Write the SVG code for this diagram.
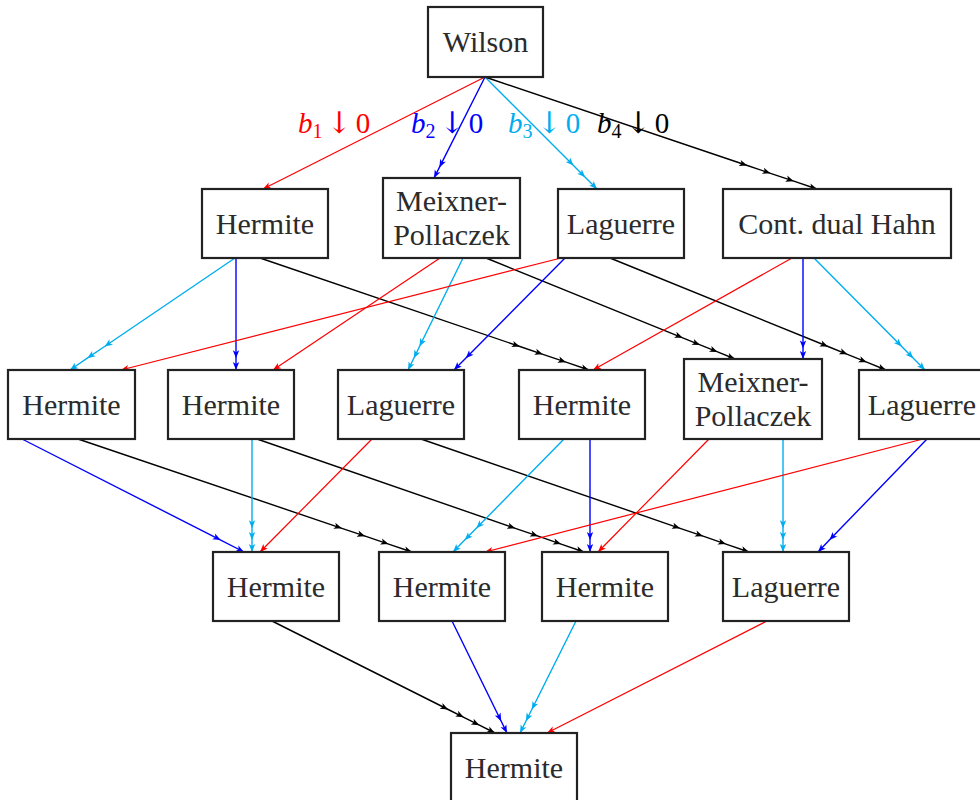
<svg xmlns="http://www.w3.org/2000/svg" width="980" height="800" viewBox="0 0 980 800">
<defs>
<style>
.box{fill:#fff;stroke:#222;stroke-width:2.2}
.t{font-family:"Liberation Serif","DejaVu Serif",serif;font-size:30px;fill:#2b2b2b;text-anchor:middle}
.lbl{font-family:"Liberation Serif","DejaVu Serif",serif;font-size:29px}
.arr{font-family:"DejaVu Serif",serif;font-size:30px}
.e{fill:none;stroke-width:1.4}
.r{stroke:#ff0000;stroke-width:1.2;marker-end:url(#hr)}
.b{stroke:#0000ff;marker-mid:url(#hb);marker-end:url(#hb)}
.c{stroke:#00aeef;marker-mid:url(#hc);marker-end:url(#hc)}
.k{stroke:#000;marker-mid:url(#hk);marker-end:url(#hk)}
</style>
<marker id="hr" viewBox="-10 -5 12 10" refX="0" refY="0" markerWidth="12" markerHeight="10" markerUnits="userSpaceOnUse" orient="auto"><path d="M0,0 L-8,-3.2 L-6,0 L-8,3.2 Z" fill="#ff0000"/></marker>
<marker id="hb" viewBox="-10 -5 12 10" refX="0" refY="0" markerWidth="12" markerHeight="10" markerUnits="userSpaceOnUse" orient="auto"><path d="M0,0 L-8,-3.2 L-6,0 L-8,3.2 Z" fill="#0000ff"/></marker>
<marker id="hc" viewBox="-10 -5 12 10" refX="0" refY="0" markerWidth="12" markerHeight="10" markerUnits="userSpaceOnUse" orient="auto"><path d="M0,0 L-8,-3.2 L-6,0 L-8,3.2 Z" fill="#00aeef"/></marker>
<marker id="hk" viewBox="-10 -5 12 10" refX="0" refY="0" markerWidth="12" markerHeight="10" markerUnits="userSpaceOnUse" orient="auto"><path d="M0,0 L-8,-3.2 L-6,0 L-8,3.2 Z" fill="#000"/></marker>
</defs>
<rect width="980" height="800" fill="#fff"/>
<g id="connectors">
<path class="e r" d="M485,77 L263,189"/>
<path class="e b" d="M485,77 L439.4,167.4 L434,178"/>
<path class="e c" d="M485,77 L573.5,165.5 L585.2,177.2 L597,189"/>
<path class="e k" d="M485,77 L747.3,165.5 L770.5,173.3 L793.8,181.2 L817,189"/>
<path class="e c" d="M235,258 L104.6,346.5 L87.3,358.2 L70,370"/>
<path class="e b" d="M236,258 L236,358.2 L236,370"/>
<path class="e k" d="M260,258 L519.9,346.5 L542.9,354.3 L566,362.2 L589,370"/>
<path class="e r" d="M440,258 L273,370"/>
<path class="e c" d="M463,258 L419.5,346.5 L413.8,358.2 L408,370"/>
<path class="e k" d="M486,258 L682.7,337.8 L700.1,344.9 L717.6,351.9 L735,359"/>
<path class="e r" d="M561,258 L121,370"/>
<path class="e b" d="M565,258 L465.7,358.2 L454,370"/>
<path class="e k" d="M610,258 L828,346.5 L847.4,354.3 L866.7,362.2 L886,370"/>
<path class="e r" d="M792,258 L593,370"/>
<path class="e b" d="M803,258 L803,348.4 L803,359"/>
<path class="e c" d="M814,258 L901.7,346.5 L913.3,358.2 L925,370"/>
<path class="e b" d="M22,439 L220.7,540.1 L244,552"/>
<path class="e k" d="M78,439 L341.9,528.3 L365.2,536.2 L388.6,544.1 L412,552"/>
<path class="e c" d="M252,439 L252,528.3 L252,540.1 L252,552"/>
<path class="e k" d="M257,439 L515.3,528.3 L538.2,536.2 L561.1,544.1 L584,552"/>
<path class="e r" d="M372,439 L260,552"/>
<path class="e k" d="M421,439 L680.1,528.3 L703.1,536.2 L726,544.1 L749,552"/>
<path class="e c" d="M564,439 L476.3,528.3 L464.7,540.1 L453,552"/>
<path class="e b" d="M590,439 L590,540.1 L590,552"/>
<path class="e r" d="M709,439 L598,552"/>
<path class="e c" d="M783,439 L783,528.3 L783,540.1 L783,552"/>
<path class="e r" d="M923,439 L485,552"/>
<path class="e b" d="M927,439 L829.4,540.1 L818,552"/>
<path class="e k" d="M272,621 L448.2,709.5 L463.8,717.3 L479.4,725.2 L495,733"/>
<path class="e b" d="M452,621 L501.2,721.2 L507,733"/>
<path class="e c" d="M576,621 L531.8,709.5 L525.9,721.2 L520,733"/>
<path class="e r" d="M767,621 L547,733"/>
</g>
<g id="labels">
<text class="lbl" x="298" y="133" fill="#ff0000"><tspan font-style="italic">b</tspan><tspan font-size="20" dy="5">1</tspan><tspan dy="-5" dx="4" class="arr">↓</tspan><tspan dx="4">0</tspan></text>
<text class="lbl" x="411" y="133" fill="#0000ff"><tspan font-style="italic">b</tspan><tspan font-size="20" dy="5">2</tspan><tspan dy="-5" dx="4" class="arr">↓</tspan><tspan dx="4">0</tspan></text>
<text class="lbl" x="508" y="133" fill="#00aeef"><tspan font-style="italic">b</tspan><tspan font-size="20" dy="5">3</tspan><tspan dy="-5" dx="4" class="arr">↓</tspan><tspan dx="4">0</tspan></text>
<text class="lbl" x="597" y="133" fill="#000"><tspan font-style="italic">b</tspan><tspan font-size="20" dy="5">4</tspan><tspan dy="-5" dx="4" class="arr">↓</tspan><tspan dx="4">0</tspan></text>
</g>
<g id="wilson"><rect class="box" x="428" y="7" width="115" height="70"/><text class="t" x="485.5" y="52">Wilson</text></g>
<g id="r1-hermite"><rect class="box" x="202" y="189" width="126" height="69"/><text class="t" x="265" y="234">Hermite</text></g>
<g id="r1-meixner"><rect class="box" x="383" y="178" width="137" height="80"/><text class="t" x="451.5" y="211">Meixner-</text><text class="t" x="451.5" y="245">Pollaczek</text></g>
<g id="r1-laguerre"><rect class="box" x="558" y="189" width="126" height="69"/><text class="t" x="621" y="234">Laguerre</text></g>
<g id="r1-cdh"><rect class="box" x="723" y="189" width="228" height="69"/><text class="t" x="837" y="234">Cont. dual Hahn</text></g>
<g id="r2-hermite1"><rect class="box" x="8" y="370" width="127" height="69"/><text class="t" x="71.5" y="415">Hermite</text></g>
<g id="r2-hermite2"><rect class="box" x="168" y="370" width="126" height="69"/><text class="t" x="231" y="415">Hermite</text></g>
<g id="r2-laguerre1"><rect class="box" x="338" y="370" width="126" height="69"/><text class="t" x="401" y="415">Laguerre</text></g>
<g id="r2-hermite3"><rect class="box" x="519" y="370" width="126" height="69"/><text class="t" x="582" y="415">Hermite</text></g>
<g id="r2-meixner"><rect class="box" x="684" y="359" width="138" height="80"/><text class="t" x="753" y="392">Meixner-</text><text class="t" x="753" y="426">Pollaczek</text></g>
<g id="r2-laguerre2"><rect class="box" x="859" y="370" width="126" height="69"/><text class="t" x="922" y="415">Laguerre</text></g>
<g id="r3-hermite1"><rect class="box" x="213" y="552" width="126" height="69"/><text class="t" x="276" y="597">Hermite</text></g>
<g id="r3-hermite2"><rect class="box" x="379" y="552" width="126" height="69"/><text class="t" x="442" y="597">Hermite</text></g>
<g id="r3-hermite3"><rect class="box" x="542" y="552" width="126" height="69"/><text class="t" x="605" y="597">Hermite</text></g>
<g id="r3-laguerre"><rect class="box" x="723" y="552" width="126" height="69"/><text class="t" x="786" y="597">Laguerre</text></g>
<g id="r4-hermite"><rect class="box" x="451" y="733" width="126" height="70"/><text class="t" x="514" y="778">Hermite</text></g>
</svg>
